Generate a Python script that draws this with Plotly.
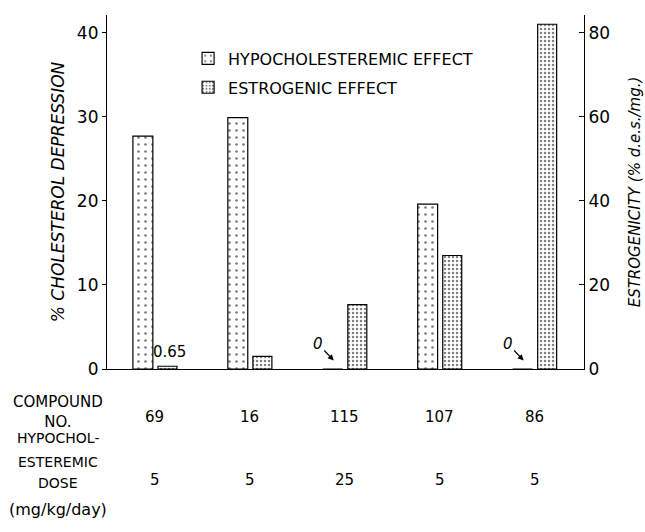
import plotly.graph_objects as go

# ---- data ----
compounds = ["69", "16", "115", "107", "86"]
hypo_effect = [27.7, 29.9, 0, 19.6, 0]          # % cholesterol depression (left axis)
estro_effect = [0.65, 3.0, 15.3, 27.0, 82.0]    # estrogenicity, % d.e.s./mg (right axis)
doses = ["5", "5", "25", "5", "5"]              # mg/kg/day
left_ticks = [0, 10, 20, 30, 40]
right_ticks = [0, 20, 40, 60, 80]
zero_marked = ["115", "86"]                     # compounds with 0 hypocholesteremic effect
dose_label_lines = ["HYPOCHOL-", "ESTEREMIC", "DOSE", "(mg/kg/day)"]

FONT = "DejaVu Sans"
idx = {c: i for i, c in enumerate(compounds)}

fig = go.Figure()
fig.add_bar(
    x=compounds, y=hypo_effect, width=0.21, offset=-0.232,
    name="HYPOCHOLESTEREMIC EFFECT", legendgroup="a",
    marker=dict(color="white", line=dict(color="black", width=1.2),
                pattern=dict(shape=".", fgcolor="black", bgcolor="white",
                             size=7, solidity=0.12)),
)
fig.add_bar(
    x=compounds, y=estro_effect, width=0.2, offset=0.032, yaxis="y2",
    name="ESTROGENIC EFFECT", legendgroup="b",
    marker=dict(color="white", line=dict(color="black", width=1.2),
                pattern=dict(shape=".", fgcolor="black", bgcolor="white",
                             size=4, solidity=0.3)),
)

ann = []
# 0.65 label
ann.append(dict(x=idx[compounds[0]], y=0.7, xref="x", yref="y", text=str(estro_effect[0]),
                showarrow=False, xshift=15, yanchor="bottom",
                font=dict(family=FONT, size=15, color="black")))
# "0" with arrows
for c in zero_marked:
    ann.append(dict(x=idx[c], y=1.0, xref="x", yref="y", text="0", showarrow=True,
                    xshift=-11, ax=-16, ay=-17, arrowhead=2, arrowsize=1,
                    arrowwidth=1.2, arrowcolor="black",
                    font=dict(family=FONT, size=15, color="black", style="italic")))
# table rows
ann.append(dict(x=-0.103, y=-0.121, xref="paper", yref="paper", xanchor="center",
                yanchor="middle", text="COMPOUND<br>NO.", showarrow=False,
                font=dict(family=FONT, size=15, color="black")))
for c in compounds:
    ann.append(dict(x=idx[c], y=-0.136, xref="x", yref="paper", text=c, showarrow=False,
                    xanchor="center", yanchor="middle",
                    font=dict(family=FONT, size=15, color="black")))
line_y = [-0.195, -0.263, -0.322, -0.398]
for t, yy in zip(dose_label_lines, line_y):
    ann.append(dict(x=-0.103, y=yy, xref="paper", yref="paper", text=t,
                    showarrow=False, xanchor="center", yanchor="middle",
                    font=dict(family=FONT, size=16 if t.startswith("(") else 14, color="black")))
for c, d in zip(compounds, doses):
    ann.append(dict(x=idx[c], y=-0.314, xref="x", yref="paper", text=d, showarrow=False,
                    xanchor="center", yanchor="middle",
                    font=dict(family=FONT, size=15, color="black")))

fig.update_layout(
    width=645, height=532,
    margin=dict(l=107, r=61, t=15, b=163, autoexpand=False),
    paper_bgcolor="white", plot_bgcolor="white",
    barmode="overlay",
    font=dict(family=FONT, color="black"),
    showlegend=True,
    legend=dict(x=0.17, y=0.925, xanchor="left", yanchor="top",
                font=dict(family=FONT, size=16, color="black"),
                bgcolor="rgba(0,0,0,0)", tracegroupgap=5),
    xaxis=dict(range=[-0.505, 4.52], showticklabels=False, ticks="",
               showline=True, linecolor="black", linewidth=1.2,
               showgrid=False, zeroline=False),
    yaxis=dict(range=[0, 42.1], tickvals=left_ticks, ticks="outside",
               ticklen=4, tickcolor="black", showline=True, linecolor="black",
               linewidth=1.2, showgrid=False, zeroline=False,
               tickfont=dict(family=FONT, size=17, color="black"),
               title=dict(text="% CHOLESTEROL DEPRESSION", standoff=7,
                          font=dict(family=FONT, size=17, color="black", style="italic"))),
    yaxis2=dict(range=[0, 84.2], tickvals=right_ticks, overlaying="y", side="right",
                ticks="inside", ticklen=5, tickcolor="black", showline=True,
                linecolor="black", linewidth=1.2, showgrid=False, zeroline=False,
                tickfont=dict(family=FONT, size=17, color="black"),
                title=dict(text="ESTROGENICITY (% d.e.s./mg.)", standoff=20,
                           font=dict(family=FONT, size=15, color="black", style="italic"))),
    annotations=ann,
)

fig.write_html("out.html", config={"displayModeBar": False},
               post_script="document.body.style.margin='0';document.body.style.overflow='hidden';")
